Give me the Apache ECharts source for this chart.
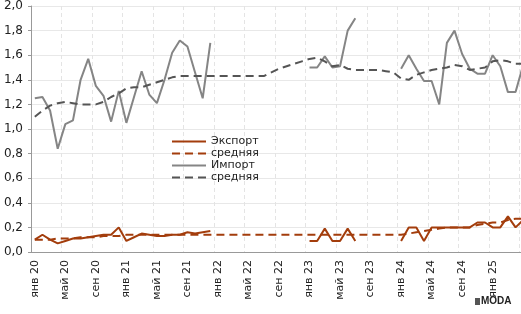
<!DOCTYPE html>
<html>
<head>
<meta charset="utf-8">
<script src="https://cdn.jsdelivr.net/npm/echarts@6/dist/echarts.min.js"></script>
<style>
    html, body { margin: 0; padding: 0; background: #fff; }
    #chart { width: 521px; height: 314px; }
</style>
</head>
<body>
<div id="chart"></div>
<script>
// months and years for the category axis (Jan 2020 .. May 2025)
var monthNames = ['янв', 'фев', 'мар', 'апр', 'май', 'июн', 'июл', 'авг', 'сен', 'окт', 'ноя', 'дек'];
var years = ['20', '21', '22', '23', '24', '25'];
var lastMonths = 5;

// y-axis ticks
var yTicks = [0, 0.2, 0.4, 0.6, 0.8, 1.0, 1.2, 1.4, 1.6, 1.8, 2.0];

var importData = [
    1.25, 1.26, 1.15, 0.84, 1.04, 1.07, 1.40, 1.57, 1.35, 1.27, 1.06, 1.31,
    1.05, 1.26, 1.47, 1.28, 1.21, 1.40, 1.62, 1.72, 1.67, 1.46, 1.25, 1.70,
    null, null, null, null, null, null, null, null, null, null, null, null,
    1.50, 1.50, 1.59, 1.50, 1.51, 1.80, 1.90, null, null, null, null, null,
    1.49, 1.60, 1.49, 1.39, 1.39, 1.20, 1.70, 1.80, 1.61, 1.49, 1.45, 1.45,
    1.60, 1.51, 1.30, 1.30, 1.52
];

var importAvg = [
    1.10, 1.15, 1.19, 1.21, 1.22, 1.21, 1.20, 1.20, 1.20, 1.22, 1.26, 1.29,
    1.33, 1.34, 1.34, 1.36, 1.38, 1.40, 1.42, 1.43, 1.43, 1.43, 1.43, 1.43,
    1.43, 1.43, 1.43, 1.43, 1.43, 1.43, 1.43, 1.46, 1.49, 1.51, 1.53, 1.55,
    1.57, 1.58, 1.55, 1.51, 1.52, 1.49, 1.48, 1.48, 1.48, 1.48, 1.47, 1.46,
    1.41, 1.40, 1.44, 1.46, 1.48, 1.49, 1.50, 1.52, 1.51, 1.48, 1.49, 1.50,
    1.55, 1.56, 1.55, 1.53, 1.53
];

var exportData = [
    0.10, 0.14, 0.10, 0.07, 0.09, 0.11, 0.11, 0.12, 0.13, 0.14, 0.14, 0.20,
    0.09, 0.12, 0.15, 0.14, 0.13, 0.13, 0.14, 0.14, 0.16, 0.15, 0.16, 0.17,
    null, null, null, null, null, null, null, null, null, null, null, null,
    0.09, 0.09, 0.19, 0.09, 0.09, 0.19, 0.09, null, null, null, null, null,
    0.09, 0.20, 0.20, 0.09, 0.20, 0.20, 0.20, 0.20, 0.20, 0.20, 0.24, 0.24,
    0.20, 0.20, 0.29, 0.20, 0.26
];

var exportAvg = [
    0.10, 0.10, 0.10, 0.11, 0.11, 0.11, 0.12, 0.12, 0.12, 0.13, 0.13, 0.13,
    0.14, 0.14, 0.14, 0.14, 0.14, 0.14, 0.14, 0.14, 0.14, 0.14, 0.14, 0.14,
    0.14, 0.14, 0.14, 0.14, 0.14, 0.14, 0.14, 0.14, 0.14, 0.14, 0.14, 0.14,
    0.14, 0.14, 0.14, 0.14, 0.14, 0.14, 0.14, 0.14, 0.14, 0.14, 0.14, 0.14,
    0.14, 0.15, 0.16, 0.17, 0.18, 0.19, 0.20, 0.20, 0.20, 0.20, 0.22, 0.23,
    0.24, 0.24, 0.26, 0.27, 0.27
];

var categories = [];
for (var y = 0; y < years.length; y++) {
    var n = (y === years.length - 1) ? lastMonths : 12;
    for (var m = 0; m < n; m++) {
        categories.push(monthNames[m] + ' ' + years[y]);
    }
}

var brown = '#a33d0c';
var gray = '#858585';
var darkGray = '#555555';
var font = 'DejaVu Sans';

var myChart = echarts.init(document.getElementById('chart'));
myChart.setOption({
    animation: false,
    textStyle: { fontFamily: font },
    grid: {
        left: 31,
        width: 496,
        top: 6,
        bottom: 62,
        containLabel: false,
        outerBoundsMode: 'none'
    },
    legend: {
        orient: 'vertical',
        left: 171,
        top: 136,
        padding: 0,
        itemWidth: 34,
        itemHeight: 10,
        itemGap: 1,
        itemStyle: { opacity: 0 },
        data: ['Экспорт', 'средняя_э', 'Импорт', 'средняя_и'],
        formatter: function (name) {
            return name.split('_')[0];
        },
        textStyle: { fontSize: 11, color: '#222', fontFamily: font }
    },
    xAxis: {
        type: 'category',
        boundaryGap: true,
        data: categories,
        axisLine: { lineStyle: { color: '#999' } },
        axisTick: { interval: 3, length: 4, lineStyle: { color: '#999' } },
        axisLabel: {
            // every 4th month, the last one falls off the picture
            interval: function (index) {
                return index % 4 === 0 && index < categories.length - 1;
            },
            rotate: 90,
            margin: 8,
            fontSize: 11,
            color: '#222',
            fontFamily: font
        },
        splitLine: {
            show: true,
            interval: 3,
            lineStyle: { color: '#e4e4e4', type: [4, 3] }
        }
    },
    yAxis: {
        type: 'value',
        min: yTicks[0],
        max: yTicks[yTicks.length - 1],
        interval: 0.2,
        axisLine: { show: true, lineStyle: { color: '#999' } },
        axisTick: { show: true, length: 3, lineStyle: { color: '#999' } },
        axisLabel: {
            margin: 8,
            fontSize: 12,
            color: '#222',
            fontFamily: font,
            formatter: function (v) {
                return v.toFixed(1).replace('.', ',');
            }
        },
        splitLine: { lineStyle: { color: '#e8e8e8' } }
    },
    series: [
        {
            name: 'Экспорт',
            type: 'line',
            data: exportData,
            symbol: 'none',
            color: brown,
            lineStyle: { width: 2, color: brown }
        },
        {
            name: 'средняя_э',
            type: 'line',
            data: exportAvg,
            symbol: 'none',
            color: brown,
            lineStyle: { width: 2, color: brown, type: [8, 5] }
        },
        {
            name: 'Импорт',
            type: 'line',
            data: importData,
            symbol: 'none',
            color: gray,
            lineStyle: { width: 2, color: gray }
        },
        {
            name: 'средняя_и',
            type: 'line',
            data: importAvg,
            symbol: 'none',
            color: darkGray,
            lineStyle: { width: 2, color: darkGray, type: [8, 5] }
        }
    ],
    graphic: [
        {
            type: 'text',
            left: 481,
            top: 296,
            style: {
                text: 'MODA',
                fontSize: 10,
                fontWeight: 'bold',
                fontFamily: 'Liberation Sans',
                fill: '#222'
            }
        },
        {
            type: 'rect',
            left: 475,
            top: 298,
            shape: { width: 5, height: 7 },
            style: { fill: '#555' }
        }
    ]
});
</script>
</body>
</html>
